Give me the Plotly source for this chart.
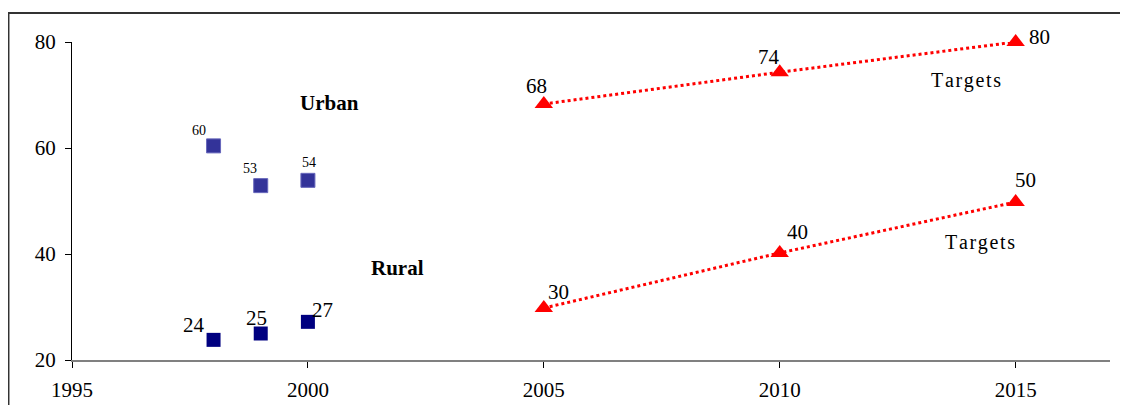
import plotly.graph_objects as go

# Data
urban_years = [1998, 1999, 2000]
urban_values = [60.4, 52.9, 53.9]
urban_labels = ["60", "53", "54"]

rural_years = [1998, 1999, 2000]
rural_values = [23.8, 25.0, 27.2]
rural_labels = ["24", "25", "27"]

target_years = [2005, 2010, 2015]
urban_targets = [68.3, 74.3, 80.0]
urban_target_labels = ["68", "74", "80"]
rural_targets = [29.8, 40.2, 49.8]
rural_target_labels = ["30", "40", "50"]

x_ticks = [1995, 2000, 2005, 2010, 2015]
y_ticks = [20, 40, 60, 80]

FONT = "Liberation Serif"

fig = go.Figure()

fig.add_trace(go.Scatter(x=urban_years, y=urban_values, mode="markers",
                         marker=dict(symbol="square", size=14, color="#333399",
                                     line=dict(width=1, color="#6666bb")),
                         showlegend=False, cliponaxis=False))
fig.add_trace(go.Scatter(x=rural_years, y=rural_values, mode="markers",
                         marker=dict(symbol="square", size=14, color="#000080"),
                         showlegend=False, cliponaxis=False))
fig.add_trace(go.Scatter(x=target_years, y=urban_targets, mode="lines+markers",
                         line=dict(color="#ff0000", width=3, dash="dot"),
                         marker=dict(symbol="triangle-up", size=16, color="#ff0000"),
                         showlegend=False, cliponaxis=False))
fig.add_trace(go.Scatter(x=target_years, y=rural_targets, mode="lines+markers",
                         line=dict(color="#ff0000", width=3, dash="dot"),
                         marker=dict(symbol="triangle-up", size=16, color="#ff0000"),
                         showlegend=False, cliponaxis=False))

annotations = []
def lab(x, y, t, dx, dy, size):
    annotations.append(dict(x=x, y=y, text=t, showarrow=False, xshift=dx, yshift=dy,
                            font=dict(family=FONT, size=size, color="#000000")))

urban_off = [(-15, 15), (-11, 17), (1, 18)]
for (x, y, t), (dx, dy) in zip(zip(urban_years, urban_values, urban_labels), urban_off):
    lab(x, y, t, dx, dy, 14)
rural_off = [(-20, 15), (-4, 16), (15, 12)]
for (x, y, t), (dx, dy) in zip(zip(rural_years, rural_values, rural_labels), rural_off):
    lab(x, y, t, dx, dy, 21)
ut_off = [(-7, 18), (-11, 15), (24, 5)]
for (x, y, t), (dx, dy) in zip(zip(target_years, urban_targets, urban_target_labels), ut_off):
    lab(x, y, t, dx, dy, 21)
rt_off = [(15, 16), (18, 21), (10, 22)]
for (x, y, t), (dx, dy) in zip(zip(target_years, rural_targets, rural_target_labels), rt_off):
    lab(x, y, t, dx, dy, 21)

annotations.append(dict(x=2000.45, y=68.5, text="<b>Urban</b>", showarrow=False,
                        font=dict(family=FONT, size=21, color="#000000")))
annotations.append(dict(x=2001.9, y=37.4, text="<b>Rural</b>", showarrow=False,
                        font=dict(family=FONT, size=21, color="#000000")))
annotations.append(dict(x=2013.95, y=72.8, text="T a r g e t s".replace(" ", "\u200a"), showarrow=False,
                        font=dict(family=FONT, size=20, color="#000000")))
annotations.append(dict(x=2014.25, y=42.1, text="T a r g e t s".replace(" ", "\u200a"), showarrow=False,
                        font=dict(family=FONT, size=20, color="#000000")))

# Page body has an 8px margin, so the figure starts at (8, 8)
fig.update_layout(
    width=1120, height=397,
    margin=dict(l=64, r=18, t=34, b=45),
    paper_bgcolor="white", plot_bgcolor="white",
    font=dict(family=FONT),
    annotations=annotations,
    shapes=[dict(type="rect", xref="paper", yref="paper",
                 x0=-0.0612, x1=1.2, y0=-0.5, y1=1.0912,
                 line=dict(color="#333333", width=2), layer="below")],
    xaxis=dict(range=[1995, 2017], tickvals=x_ticks, ticktext=[str(v) for v in x_ticks],
               showgrid=False, zeroline=False, showline=True, linecolor="#808080", linewidth=2,
               ticks="outside", ticklen=6, tickcolor="#000000", tickwidth=1,
               ticklabelstandoff=4, automargin=False,
               tickfont=dict(family=FONT, size=21, color="#000000")),
    yaxis=dict(range=[20, 80], tickvals=y_ticks, ticktext=[str(v) for v in y_ticks],
               showgrid=False, zeroline=False, showline=True, linecolor="#000000", linewidth=1,
               ticks="outside", ticklen=6, tickcolor="#000000",
               ticklabelstandoff=5, automargin=False,
               tickfont=dict(family=FONT, size=21, color="#000000")),
)

fig.write_html("out.html")
